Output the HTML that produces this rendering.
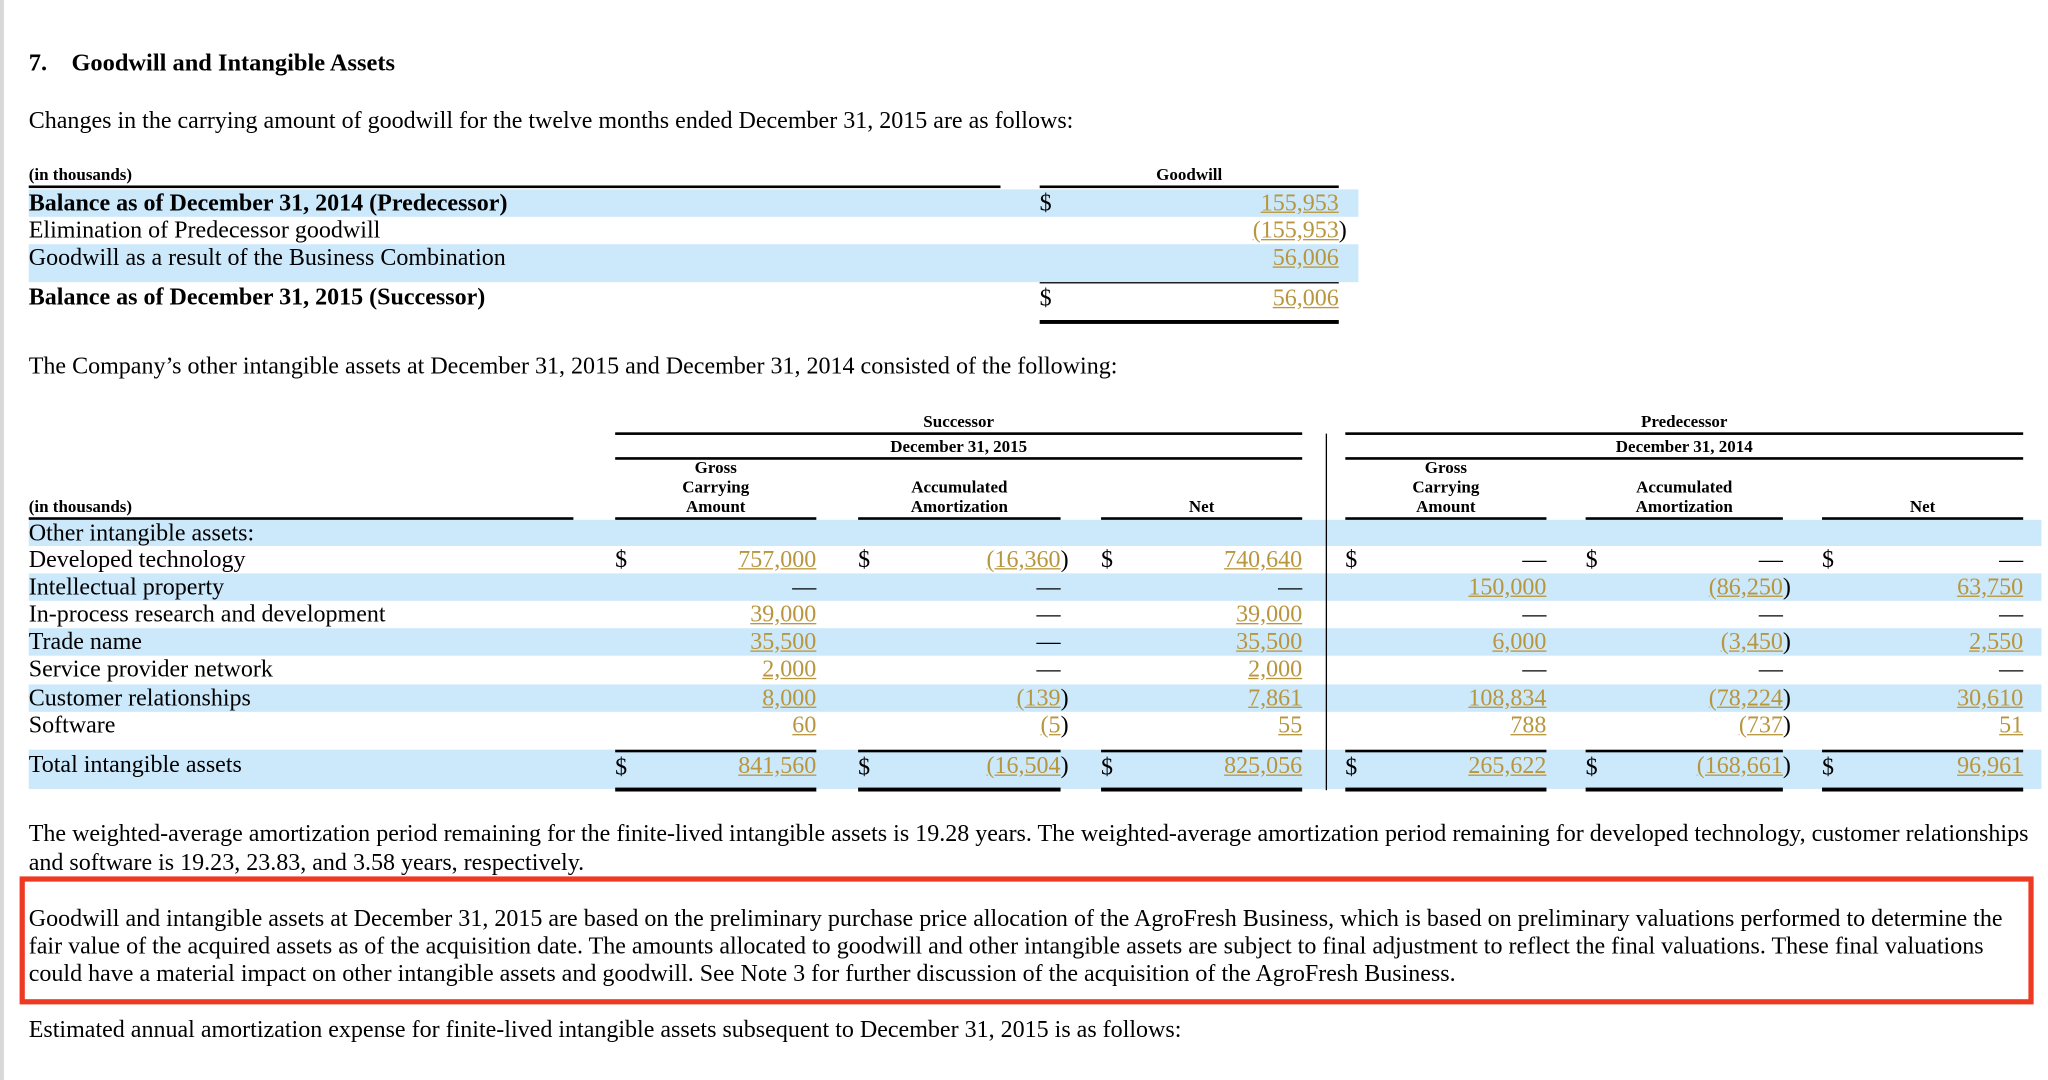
<!DOCTYPE html>
<html><head><meta charset="utf-8">
<style>
html,body{margin:0;padding:0;background:#fff;}
body{width:2048px;height:1080px;overflow:hidden;position:relative;}
#w{position:absolute;left:0;top:0;width:1568px;height:827px;transform:scale(1.306122);transform-origin:0 0;font-family:"Liberation Serif",serif;color:#000;}
.t{position:absolute;white-space:nowrap;font-size:18.4px;line-height:20px;}
.b{font-weight:bold;}
.h{font-size:13px;line-height:14px;font-weight:bold;text-align:center;}
.r{position:absolute;white-space:nowrap;font-size:18.4px;line-height:20px;text-align:right;}
.v{color:#b8963e;text-decoration:underline;}
.band{position:absolute;background:#cce8fb;}
.ln{position:absolute;background:#000;}
</style></head><body>
<div id="w">
<div class="ln" style="left:0;top:0;width:3px;height:827px;background:#d8d8d8"></div>
<div class="t b" style="left:22px;top:39px;font-size:18.7px">7.&nbsp;&nbsp;&nbsp;&nbsp;Goodwill and Intangible Assets</div>
<div class="t" style="left:22px;top:82px">Changes in the carrying amount of goodwill for the twelve months ended December 31, 2015 are as follows:</div>

<div class="band" style="left:22px;top:145px;width:1018px;height:21px"></div>
<div class="band" style="left:22px;top:187px;width:1018px;height:29px"></div>
<div class="t b" style="left:22px;top:127px;font-size:13px;line-height:14px">(in thousands)</div>
<div class="t h" style="left:796px;top:127px;width:229px">Goodwill</div>
<div class="ln" style="left:22px;top:142px;width:744px;height:2px"></div>
<div class="ln" style="left:796px;top:142px;width:229px;height:2px"></div>
<div class="t b" style="left:22px;top:145px">Balance as of December 31, 2014 (Predecessor)</div>
<div class="t" style="left:796px;top:145px">$</div>
<div class="r v" style="right:543px;top:145px">155,953</div>
<div class="t" style="left:22px;top:166px">Elimination of Predecessor goodwill</div>
<div class="r v" style="right:543px;top:166px">(155,953</div>
<div class="t" style="left:1025px;top:166px">)</div>
<div class="t" style="left:22px;top:187px">Goodwill as a result of the Business Combination</div>
<div class="r v" style="right:543px;top:187px">56,006</div>
<div class="ln" style="left:796px;top:216px;width:229px;height:1px"></div>
<div class="t b" style="left:22px;top:217px">Balance as of December 31, 2015 (Successor)</div>
<div class="t" style="left:796px;top:218px">$</div>
<div class="r v" style="right:543px;top:218px">56,006</div>
<div class="ln" style="left:796px;top:245px;width:229px;height:3px"></div>

<div class="t" style="left:22px;top:270px">The Company’s other intangible assets at December 31, 2015 and December 31, 2014 consisted of the following:</div>

<div id="t2"></div>

<div class="t" style="left:22px;top:628px">The weighted-average amortization period remaining for the finite-lived intangible assets is 19.28 years. The weighted-average amortization period remaining for developed technology, customer relationships</div>
<div class="t" style="left:22px;top:650px">and software is 19.23, 23.83, and 3.58 years, respectively.</div>
<div style="position:absolute;left:15px;top:671px;width:1534px;height:90px;border:4px solid #ee3a22"></div>
<div class="t" style="left:22px;top:693px">Goodwill and intangible assets at December 31, 2015 are based on the preliminary purchase price allocation of the AgroFresh Business, which is based on preliminary valuations performed to determine the</div>
<div class="t" style="left:22px;top:714px">fair value of the acquired assets as of the acquisition date. The amounts allocated to goodwill and other intangible assets are subject to final adjustment to reflect the final valuations. These final valuations</div>
<div class="t" style="left:22px;top:735px">could have a material impact on other intangible assets and goodwill. See Note 3 for further discussion of the acquisition of the AgroFresh Business.</div>
<div class="t" style="left:22px;top:778px">Estimated annual amortization expense for finite-lived intangible assets subsequent to December 31, 2015 is as follows:</div>
</div>
<script>
const labels=["Other intangible assets:","Developed technology","Intellectual property","In-process research and development","Trade name","Service provider network","Customer relationships","Software"];
const succGross=["","757,000","—","39,000","35,500","2,000","8,000","60"];
const succAmort=["","(16,360)","—","—","—","—","(139)","(5)"];
const succNet=["","740,640","—","39,000","35,500","2,000","7,861","55"];
const predGross=["","—","150,000","—","6,000","—","108,834","788"];
const predAmort=["","—","(86,250)","—","(3,450)","—","(78,224)","(737)"];
const predNet=["","—","63,750","—","2,550","—","30,610","51"];
const totals=["841,560","(16,504)","825,056","265,622","(168,661)","96,961"];
const rowTops=[398,418,439,460,481,502,524,545];
const cols=[[471,625],[657,812],[843,997],[1030,1184],[1214,1365],[1395,1549]];
const t2=document.getElementById('t2');
function mk(cls,style,txt,name){const d=document.createElement('div');d.className=cls;d.style.cssText=style;if(txt!==undefined)d.textContent=txt;


t2.appendChild(d);return d;}
[0,2,4,6].forEach(i=>mk('band',`left:22px;top:${rowTops[i]}px;width:1541px;height:${rowTops[i+1]-rowTops[i]}px`,undefined,'row-band'));
mk('band','left:22px;top:574px;width:1541px;height:30px',undefined,'row-band');
mk('t h','left:471px;top:316px;width:526px','Successor','successor-header');
mk('ln','left:471px;top:331px;width:526px;height:2px',undefined,'rule');
mk('t h','left:471px;top:335px;width:526px','December 31, 2015','successor-date');
mk('ln','left:471px;top:350px;width:526px;height:2px',undefined,'rule');
mk('t h','left:1030px;top:316px;width:519px','Predecessor','predecessor-header');
mk('ln','left:1030px;top:331px;width:519px;height:2px',undefined,'rule');
mk('t h','left:1030px;top:335px;width:519px','December 31, 2014','predecessor-date');
mk('ln','left:1030px;top:350px;width:519px;height:2px',undefined,'rule');
mk('ln','left:1015px;top:332px;width:1px;height:273px',undefined,'divider');
mk('t b','left:22px;top:381px;font-size:13px;line-height:14px','(in thousands)','units-label');
mk('ln','left:22px;top:396px;width:417px;height:2px',undefined,'rule');
const hdr=[["Gross","Carrying","Amount"],["","Accumulated","Amortization"],["","","Net"]];
cols.forEach((c,i)=>{const h=hdr[i%3];h.forEach((s,j)=>{if(s)mk('t h',`left:${c[0]}px;top:${351+j*15}px;width:${c[1]-c[0]}px`,s,'column-header');});
mk('ln',`left:${c[0]}px;top:396px;width:${c[1]-c[0]}px;height:2px`,undefined,'rule');
mk('ln',`left:${c[0]}px;top:574px;width:${c[1]-c[0]}px;height:2px`,undefined,'rule');
mk('ln',`left:${c[0]}px;top:603px;width:${c[1]-c[0]}px;height:3px`,undefined,'rule');});
const series=[succGross,succAmort,succNet,predGross,predAmort,predNet];
function val(txt,c,top,name){if(!txt)return;
if(txt==='—'){mk('r',`right:${1568-c[1]}px;top:${top}px`,txt,'dash');return;}
let s=txt,p=false;if(s.endsWith(')')){s=s.slice(0,-1);p=true;}
mk('r v',`right:${1568-c[1]}px;top:${top}px`,s,name);
if(p)mk('t',`left:${c[1]}px;top:${top}px`,')','paren');}
labels.forEach((l,i)=>{mk('t',`left:22px;top:${rowTops[i]}px`,l,'row-label');
series.forEach((s,k)=>{val(s[i],cols[k],rowTops[i],'cell-value');if(i===1)mk('t',`left:${cols[k][0]}px;top:${rowTops[i]}px`,'$','dollar');});});
mk('t','left:22px;top:575px','Total intangible assets','total-label');
totals.forEach((v,k)=>{mk('t',`left:${cols[k][0]}px;top:577px`,'$','dollar');val(v,cols[k],576,'total-value');});
</script>
</body></html>
